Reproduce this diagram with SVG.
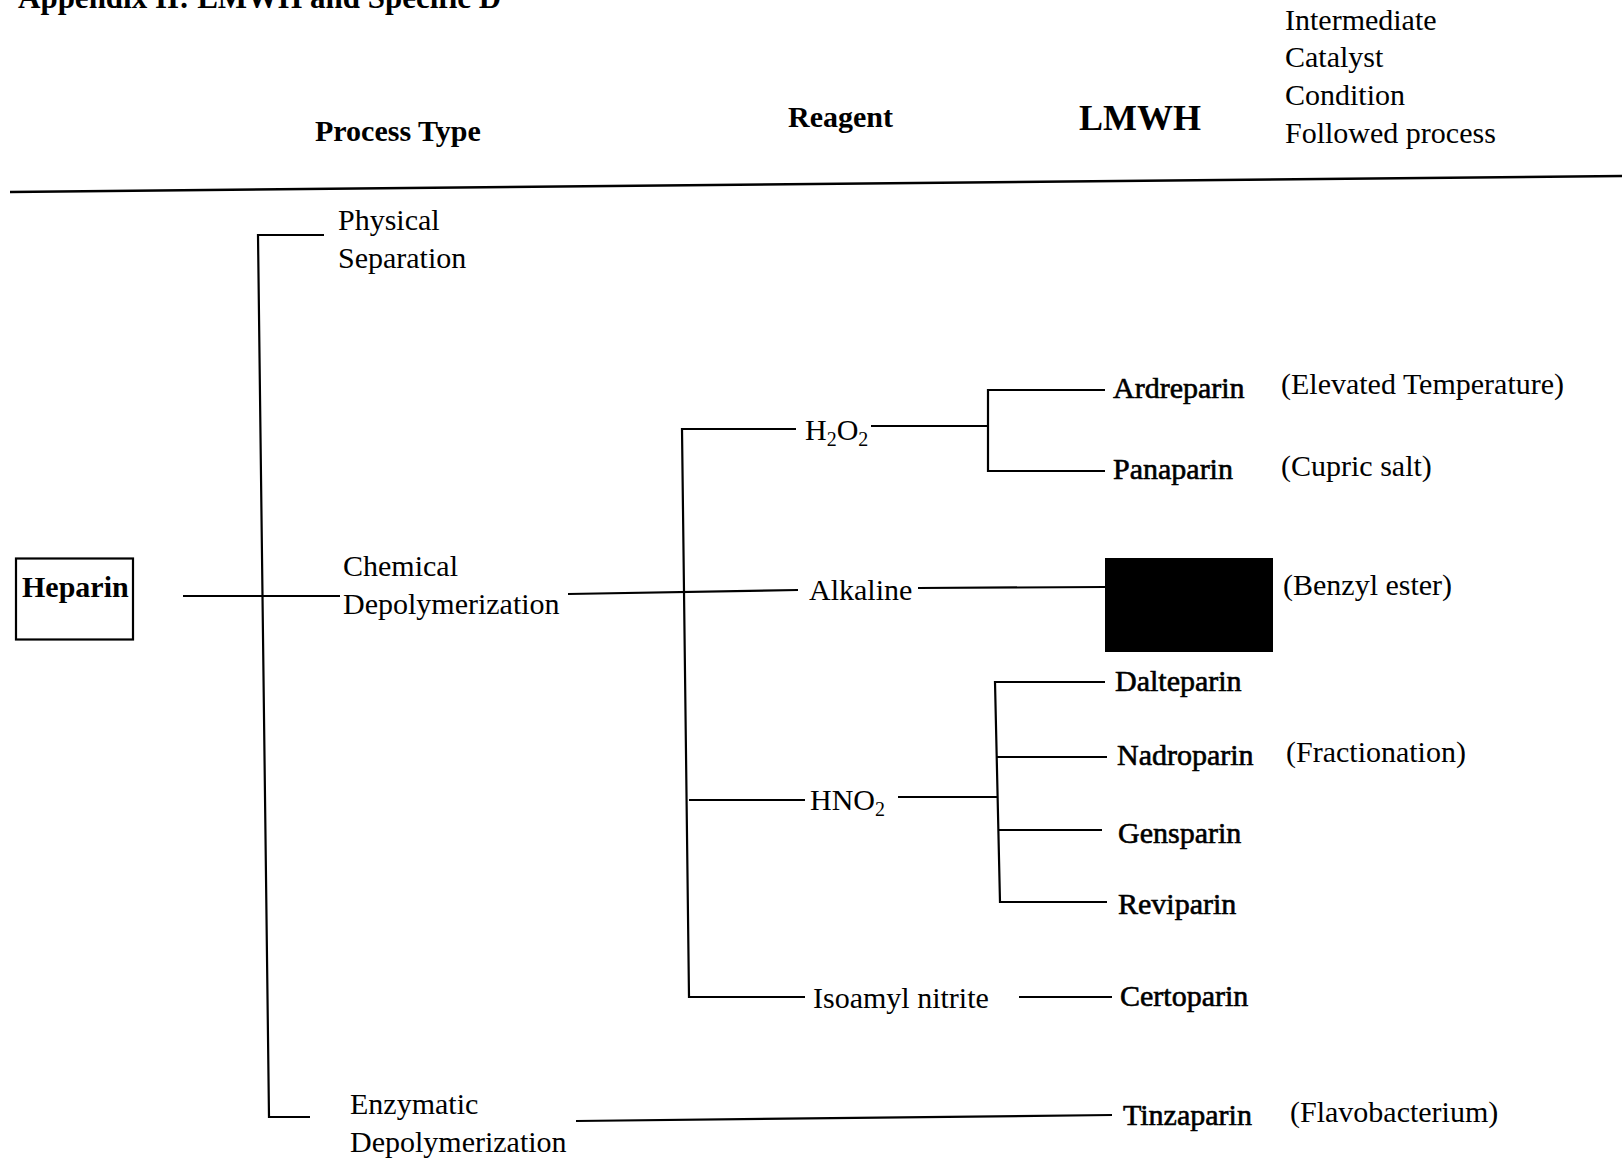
<svg xmlns="http://www.w3.org/2000/svg" width="1622" height="1160" viewBox="0 0 1622 1160">
<style>
text{font-family:"Liberation Serif","Times New Roman",serif;fill:#000}
.b{font-weight:bold}
.r{font-size:30px}
.d{font-size:30px;stroke:#000;stroke-width:0.6}
.h{font-size:30px;font-weight:bold}
.c line,.c path{stroke:#000;stroke-width:2.2;fill:none}
</style>
<rect width="1622" height="1160" fill="#fff"/>
<text x="18" y="8" class="b" font-size="31">Appendix II: LMWH and Specific D</text>
<g id="header">
<text x="315" y="141" class="h">Process Type</text>
<text x="788" y="127" class="h">Reagent</text>
<text x="1079" y="130" class="b" font-size="36">LMWH</text>
<text x="1285" y="30" class="r">Intermediate</text>
<text x="1285" y="67" class="r">Catalyst</text>
<text x="1285" y="105" class="r">Condition</text>
<text x="1285" y="143" class="r">Followed process</text>
<line x1="10" y1="192" x2="1622" y2="176" stroke="#000" stroke-width="2.5"/>
</g>
<g class="c" id="connectors">
<line x1="183" y1="596" x2="340" y2="596"/>
<path d="M324,235 H258 L269,1117 H310"/>
<line x1="568" y1="594" x2="798" y2="590"/>
<path d="M796,429 H682 L689,997 H805"/>
<line x1="689" y1="800" x2="805" y2="800"/>
<line x1="871" y1="426" x2="988" y2="426"/>
<path d="M1105,390 H988 V471 H1105"/>
<line x1="918" y1="588" x2="1105" y2="587"/>
<line x1="898" y1="797" x2="998" y2="797"/>
<path d="M1105,682 H995 L1000,902 H1107"/>
<line x1="997" y1="757" x2="1107" y2="757"/>
<line x1="999" y1="830" x2="1102" y2="830"/>
<line x1="1019" y1="997" x2="1112" y2="997"/>
<line x1="576" y1="1121" x2="1112" y2="1115"/>
</g>
<g id="heparin">
<rect x="16" y="558.5" width="117" height="81" fill="none" stroke="#000" stroke-width="2.2"/>
<text x="22" y="597" class="h">Heparin</text>
</g>
<g id="physical"><text class="r" x="338" y="230">Physical</text><text class="r" x="338" y="268">Separation</text></g>
<g id="chemical"><text class="r" x="343" y="576">Chemical</text><text class="r" x="343" y="614">Depolymerization</text></g>
<g id="enzymatic"><text class="r" x="350" y="1114">Enzymatic</text><text class="r" x="350" y="1152">Depolymerization</text></g>
<g id="h2o2"><text class="r" x="805" y="440">H<tspan font-size="20" dy="6">2</tspan><tspan dy="-6">O</tspan><tspan font-size="20" dy="6">2</tspan></text></g>
<g id="alkaline"><text class="r" x="809" y="600">Alkaline</text></g>
<g id="hno2"><text class="r" x="810" y="810">HNO<tspan font-size="20" dy="6">2</tspan></text></g>
<g id="isoamyl"><text class="r" x="813" y="1008">Isoamyl nitrite</text></g>
<g id="ardreparin"><text class="d" x="1113" y="398">Ardreparin</text><text class="r" x="1281" y="394">(Elevated Temperature)</text></g>
<g id="panaparin"><text class="d" x="1113" y="479">Panaparin</text><text class="r" x="1281" y="476">(Cupric salt)</text></g>
<g id="redacted"><rect x="1105" y="558" width="168" height="94" fill="#000"/><text class="r" x="1283" y="595">(Benzyl ester)</text></g>
<g id="dalteparin"><text class="d" x="1115" y="691">Dalteparin</text></g>
<g id="nadroparin"><text class="d" x="1117" y="765">Nadroparin</text><text class="r" x="1286" y="762">(Fractionation)</text></g>
<g id="gensparin"><text class="d" x="1118" y="843">Gensparin</text></g>
<g id="reviparin"><text class="d" x="1118" y="914">Reviparin</text></g>
<g id="certoparin"><text class="d" x="1120" y="1006">Certoparin</text></g>
<g id="tinzaparin"><text class="d" x="1123" y="1125">Tinzaparin</text><text class="r" x="1290" y="1122">(Flavobacterium)</text></g>
</svg>
